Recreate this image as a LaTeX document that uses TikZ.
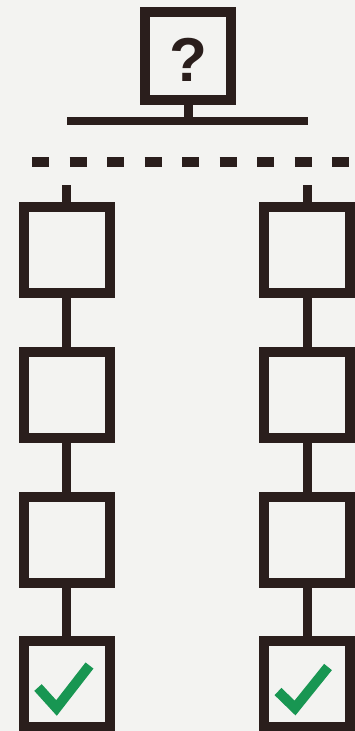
\documentclass[tikz,border=0pt]{standalone}
\usepackage{fontspec}
\setmainfont{Liberation Sans}
\usepackage{tikz}
\usetikzlibrary{calc}
\usetikzlibrary{positioning}
\usepackage{xcolor}
\definecolor{ink}{RGB}{42,30,28}
\definecolor{okgreen}{RGB}{24,150,82}
\definecolor{paper}{RGB}{243,243,241}

\begin{document}
\begin{tikzpicture}[x=1pt, y=-1pt,
		box/.style = {rectangle, draw=ink, line width=10pt, minimum size=86pt, inner sep=0pt},
		ln/.style = {draw=ink, line width=9pt},
		dl/.style = {draw=ink, line width=10pt, dash pattern=on 17pt off 20.5pt},
		ok/.style = {draw=okgreen, line width=10pt, line join=miter},
		qm/.style = {text=ink, font=\fontsize{62}{62}\selectfont\bfseries, inner sep=0pt}
		]
		
		%Page
		\useasboundingbox (0,0) rectangle (355,731);
		\fill[paper] (0,0) rectangle (355,731);
		
		%Nodes
		\node[box, minimum height=88pt]	(q)	at	(188, 56)	{};
		\node[qm]	(qs)	at	(188, 59.5)	{?};
		\coordinate	(bl)	at	(67, 121);
		\coordinate	(br)	at	(308, 121);
		\coordinate	(dl1)	at	(32, 162);
		\coordinate	(dr1)	at	(349, 162);
		
		\coordinate	(lt)	at	(66.5, 185);
		\node[box]	(l1)	at	(66.5, 250)	{};
		\node[box]	(l2)	at	(66.5, 395)	{};
		\node[box]	(l3)	at	(66.5, 540)	{};
		\node[box]	(l4)	at	(66.5, 683.5)	{};
		
		\coordinate	(rt)	at	(307, 185);
		\node[box]	(r1)	at	(307, 250)	{};
		\node[box]	(r2)	at	(307, 395)	{};
		\node[box]	(r3)	at	(307, 540)	{};
		\node[box]	(r4)	at	(307, 683.5)	{};
		
		%Lines
		\draw[ln]	(q.south)	--	(q.south |- bl);
		\draw[ln, line width=8pt]	(bl)	--	(br);
		\draw[dl]	(dl1)	--	(dr1);
		
		\draw[ln]	(lt)	--	(l1.north);
		\draw[ln]	(l1.south)	--	(l2.north);
		\draw[ln]	(l2.south)	--	(l3.north);
		\draw[ln]	(l3.south)	--	(l4.north);
		
		\draw[ln]	(rt)	--	(r1.north);
		\draw[ln]	(r1.south)	--	(r2.north);
		\draw[ln]	(r2.south)	--	(r3.north);
		\draw[ln]	(r3.south)	--	(r4.north);
		
		%Ticks
		\draw[ok, shift={(l4.center)}]	(-28.5, 4)	--	(-10, 24.5)	--	(23, -18);
		\draw[ok, shift={(r4.center)}]	(-29, 8)	--	(-12, 24.5)	--	(21, -16.5);
	\end{tikzpicture}
\end{document}
